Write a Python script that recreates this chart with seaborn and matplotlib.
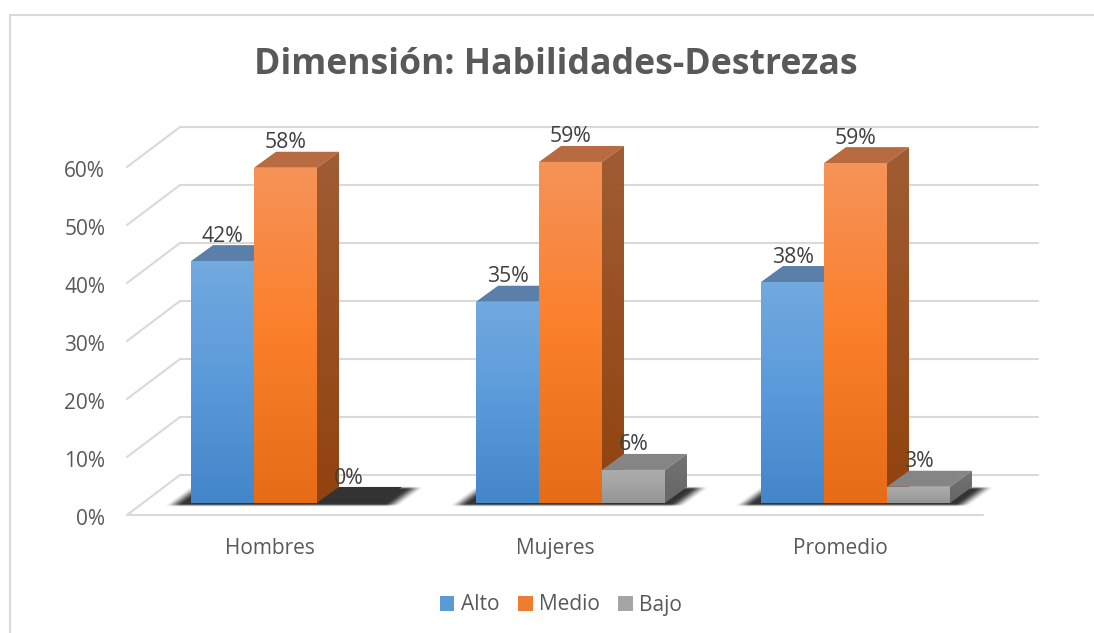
# %%
import matplotlib.pyplot as plt
import numpy as np
import pandas as pd
import seaborn as sns
from matplotlib.colors import LinearSegmentedColormap
from matplotlib.lines import Line2D
from matplotlib.patches import Polygon
from matplotlib.transforms import Affine2D

categories = ["Hombres", "Mujeres", "Promedio"]
series_names = ["Alto", "Medio", "Bajo"]
alto = [41.7, 34.7, 38.1]
medio = [57.8, 58.8, 58.6]
bajo = [0.0, 5.7, 2.8]
y_ticks = [0, 10, 20, 30, 40, 50, 60]
title = "Dimensión: Habilidades-Destrezas"

W, H = 1094, 633
palette = {"Alto": "#5B9BD5", "Medio": "#ED7D31", "Bajo": "#A5A5A5"}
front_stops = {
    "Alto": ["#4486CA", "#5A9ADA", "#72A9DF"],
    "Medio": ["#E66C17", "#FB7F2A", "#F69358"],
    "Bajo": ["#959595", "#A3A3A3", "#ADADAD"],
}
side_stops = {
    "Alto": ["#2F5F90", "#4F7CA8"],
    "Medio": ["#91430F", "#A05C33"],
    "Bajo": ["#666666", "#737373"],
}
top_colors = {"Alto": "#5A7FA9", "Medio": "#B86B40", "Bajo": "#858585"}

sns.set_theme(style="white")
plt.rcParams["font.family"] = ["Open Sans", "DejaVu Sans"]
text_color = "#595959"

df = pd.DataFrame(
    {
        "grupo": categories * 3,
        "serie": np.repeat(series_names, 3),
        "valor": alto + medio + bajo,
    }
)

fig = plt.figure(figsize=(W / 100, H / 100), dpi=100, facecolor="white")
ax = fig.add_axes([143 / W, 1 - 503 / H, 855 / W, 348 / H])
sns.barplot(
    data=df,
    x="grupo",
    y="valor",
    hue="serie",
    palette=palette,
    width=0.663,
    gap=0,
    saturation=1,
    errorbar=None,
    ax=ax,
)
ax.set_xlim(-0.5, 2.5)
ax.set_ylim(0, 60)
ux = 3 / 855  # data units per pixel
uy = 60 / 348


def floor_grid(v, color="#D9D9D9"):
    xs = [-0.5 - 16 * ux, -0.5 + 37 * ux, 2.5 + 40 * ux]
    ys = [v - 12 * uy, v + 28 * uy, v + 28 * uy]
    ax.plot(xs, ys, color=color, lw=1.5, zorder=1, clip_on=False)


for v in y_ticks:
    floor_grid(v)
ax.plot(
    [-0.5 - 16 * ux, 2.5 - 15 * ux],
    [-12 * uy, -12 * uy],
    color="#D9D9D9",
    lw=1.5,
    zorder=1,
    clip_on=False,
)


def smooth(t):
    t = np.clip(t, 0, 1)
    return t * t * (3 - 2 * t)


# soft shadow on the floor, one per group
for i in range(3):
    left = ax.containers[0][i].get_x()
    right = ax.containers[2][i].get_x() + ax.containers[2][i].get_width()
    wpx = (right - left) / ux
    px = np.arange(-40, wpx + 60, 0.5)
    py = np.arange(-7, 22, 0.5)
    gx, gy = np.meshgrid(px, py)
    u = gx - gy * 22 / 16
    alpha = smooth((u + 24) / 18) * smooth((wpx + 24 - u) / 18)
    alpha = alpha * smooth((16.5 - gy) / 3) * smooth((gy + 4) / 3) * 0.8
    rgba = np.zeros(gx.shape + (4,))
    rgba[..., 3] = alpha
    im = ax.imshow(
        rgba,
        extent=[left + px[0] * ux, left + px[-1] * ux, py[0] * uy, py[-1] * uy],
        origin="lower",
        aspect="auto",
        zorder=2,
    )
    im.set_clip_on(False)


def gradient(stops, extent, clip, z):
    cmap = LinearSegmentedColormap.from_list("g", stops)
    img = np.linspace(0, 1, 64).reshape(-1, 1)
    im = ax.imshow(img, cmap=cmap, extent=extent, origin="lower", aspect="auto", zorder=z)
    im.set_clip_path(clip)
    im.set_clip_box(fig.bbox)


dx = 22 * ux
dy = 16 * uy
for s, (name, bars) in enumerate(zip(series_names, ax.containers)):
    for i, bar in enumerate(bars):
        x0 = bar.get_x()
        x1 = x0 + bar.get_width()
        h = bar.get_height()
        z = 3 + i * 10 + s
        bar.set_zorder(z)
        bar.set_linewidth(0)
        # top and right faces of the box
        top_c = top_colors[name] if h > 0 else "#333333"
        ax.add_patch(
            Polygon(
                [(x0, h), (x1, h), (x1 + dx, h + dy), (x0 + dx, h + dy)],
                fc=top_c,
                ec="none",
                zorder=z,
                clip_on=False,
            )
        )
        if h > 0:
            side = Polygon(
                [(x1, 0), (x1 + dx, dy), (x1 + dx, h + dy), (x1, h)],
                transform=ax.transData,
                fc="none",
                ec="none",
            )
            ax.add_patch(side)
            side.set_clip_on(False)
            gradient(side_stops[name], [x1, x1 + dx, 0, h + dy], side, z)
            front = Polygon(
                [(x0, 0), (x1, 0), (x1, h), (x0, h)], transform=ax.transData, fc="none", ec="none"
            )
            ax.add_patch(front)
            gradient(front_stops[name], [x0, x1, 0, h], front, z)
        ax.annotate(
            f"{h:.0f}%",
            xy=((x0 + x1) / 2, h),
            xytext=(0, 18),
            textcoords="offset points",
            ha="center",
            va="center",
            fontsize=15.3,
            color="#404040",
            zorder=100,
            annotation_clip=False,
        )

ax.set_xlim(-0.5, 2.5)
ax.set_ylim(0, 60)
ax.set_xlabel("")
ax.set_ylabel("")
sns.despine(ax=ax, left=True, bottom=True, top=True, right=True)
ax.patch.set_alpha(0)
ax.set_yticks(y_ticks)
ax.set_yticklabels([f"{v}%" for v in y_ticks])
ax.tick_params(axis="both", length=0, labelsize=15, labelcolor=text_color)
for lab in ax.get_yticklabels():
    lab.set_transform(lab.get_transform() + Affine2D().translate(-33, -14))
for lab in ax.get_xticklabels():
    lab.set_transform(lab.get_transform() + Affine2D().translate(-15.5, -30))

handles = [plt.Rectangle((0, 0), 1, 1, fc=palette[n], ec="none") for n in series_names]
fig.legend(
    handles,
    series_names,
    loc="center",
    bbox_to_anchor=(561 / W, 1 - 605 / H),
    ncol=3,
    frameon=False,
    fontsize=15,
    labelcolor=text_color,
    handlelength=0.7,
    handleheight=0.7,
    handletextpad=0.3,
    columnspacing=0.9,
)
ax.get_legend().remove()

fig.text(556 / W, 1 - 65 / H, title, ha="center", va="center", fontsize=25.7, fontweight="bold", color=text_color)

# outer chart frame, only top and left are in the picture
fig.add_artist(Line2D([10 / W, 10 / W], [0, 1 - 15 / H], color="#D9D9D9", lw=1.5))
fig.add_artist(Line2D([10 / W, 1], [1 - 15 / H, 1 - 15 / H], color="#D9D9D9", lw=1.5))

fig.savefig("out.png", dpi=100)
